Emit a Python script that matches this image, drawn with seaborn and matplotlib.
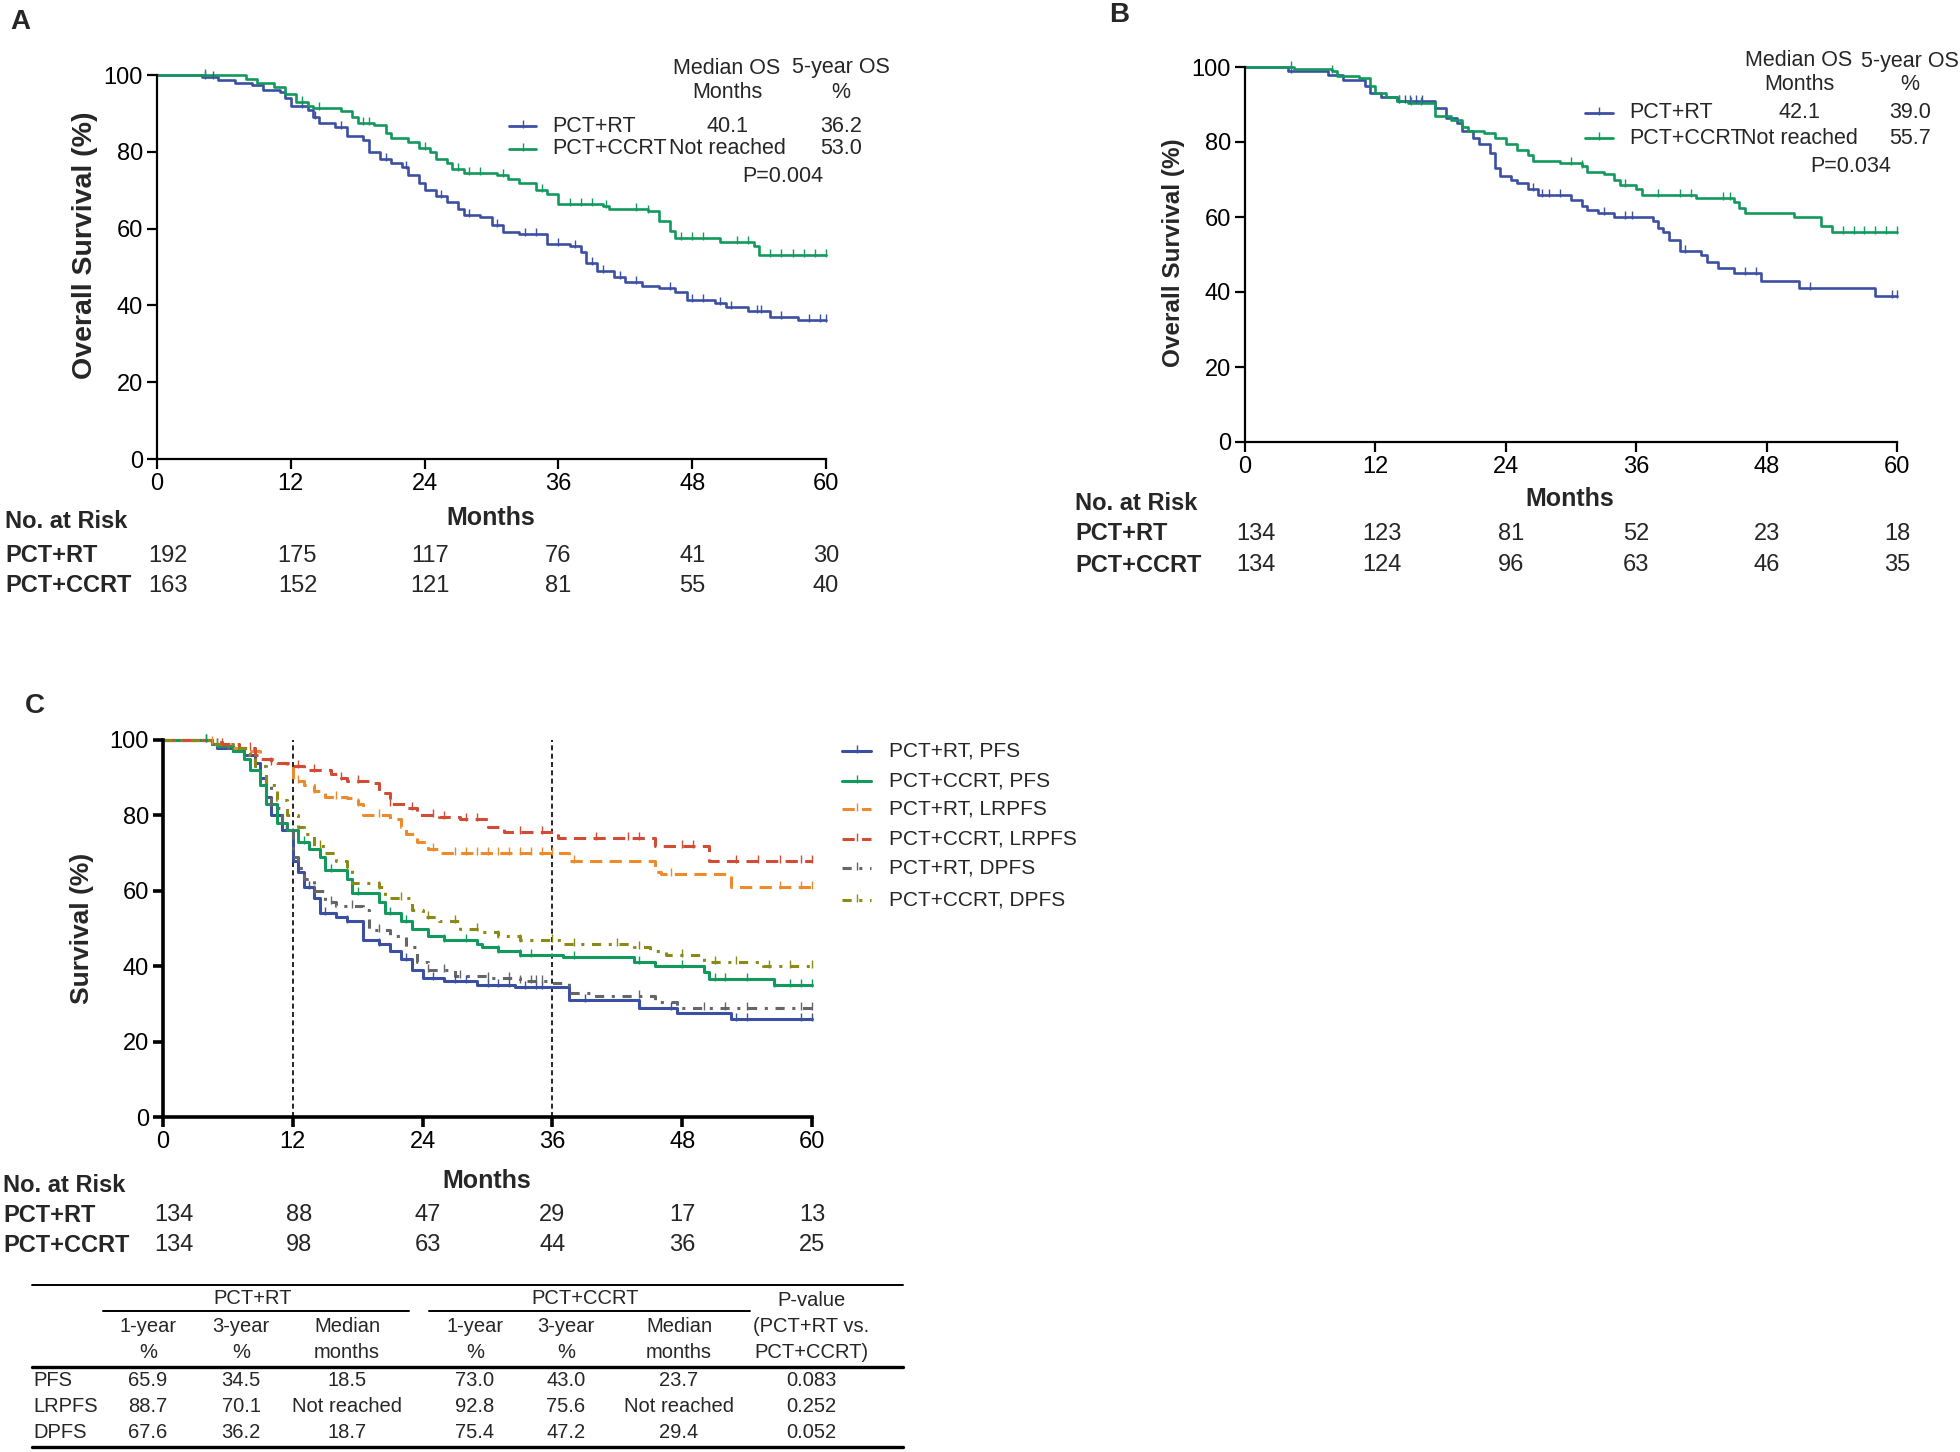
import numpy as np
import pandas as pd
import seaborn as sns
import matplotlib
matplotlib.use("Agg")
import matplotlib.pyplot as plt
from matplotlib.lines import Line2D
from matplotlib.path import Path
from matplotlib import transforms

# ---------------- data ----------------
MONTH_TICKS = [0, 12, 24, 36, 48, 60]
SURV_TICKS = [0, 20, 40, 60, 80, 100]
GROUPS = ["PCT+RT", "PCT+CCRT"]

# panel A - overall survival, whole cohort
A_RT_T = [0, 4, 5.5, 7, 8.5, 9.5, 11, 11.5, 12, 13.5, 14, 14.5, 16, 17, 18.5, 19, 20, 21, 22, 22.5,
          23.5, 24, 25, 26, 27, 27.5, 29, 30, 31, 32.5, 35, 37, 38, 38.5, 39.5, 41, 42, 43.5, 45, 46.5,
          47.5, 50, 51, 53, 55, 57.5, 60]
A_RT_S = [100, 99.5, 98.8, 98, 97.5, 96, 95.5, 94, 92, 91, 89, 87.5, 86.5, 84, 83, 80, 78, 77, 76, 74,
          72, 70, 68.5, 67, 65, 63.5, 63, 61, 59, 58.5, 56, 55.5, 54, 51, 49, 47.5, 46, 45, 44.5, 43.5,
          41.5, 40.5, 39.5, 38.5, 37, 36.2, 36.2]
A_CC_T = [0, 8, 9, 10.5, 11.5, 12.5, 13.5, 14, 16.5, 17.5, 18, 19.5, 20.5, 21, 22.5, 23.5, 24.5, 25, 26, 26.5,
          27.5, 30.5, 31.5, 32.5, 34, 35, 36, 40, 40.5, 44, 45, 46, 46.5, 50.5, 53.5, 54, 60]
A_CC_S = [100, 99, 98, 97, 95, 93, 92, 91.5, 90.5, 89, 87.5, 87, 85, 83.5, 82.5, 81, 80, 78, 77, 75.5,
          74.5, 74, 73, 72, 70, 69, 66.5, 66, 65, 64.5, 62, 59.5, 57.5, 56.5, 55.5, 53, 53]
A_RT_CENS = [4.3, 5, 13, 14.2, 16.5, 20.5, 22.3, 25.5, 28, 30.5, 33, 34, 36, 37.5, 39, 40, 41.5, 43, 46,
             48, 49, 50.5, 51.5, 53.8, 54.2, 56, 58.5, 59.5, 60]
A_CC_CENS = [4.3, 13, 14.5, 18.5, 19, 24, 27, 28, 29, 31, 34.5, 37, 38, 39, 40.3, 43, 44, 47, 48, 49,
             52, 53, 55, 56, 57, 58, 59, 60]
A_MEDIAN = ["40.1", "Not reached"]
A_FIVE_YEAR = ["36.2", "53.0"]
A_P = "P=0.004"
A_RISK = [[192, 175, 117, 76, 41, 30], [163, 152, 121, 81, 55, 40]]

# panel B - overall survival, matched cohort
B_RT_T = [0, 4, 7.6, 9, 11, 11.5, 12.5, 14, 17.5, 18.5, 19.5, 20, 21, 21.5, 22.5, 23, 23.5, 24.5, 25, 26,
          27, 30, 31, 31.5, 32.5, 34, 37.5, 38, 38.5, 39, 40, 42, 42.5, 43.5, 45, 47.5, 51, 58, 60]
B_RT_S = [100, 99, 98, 96.5, 95, 93, 92, 91, 89, 86.5, 85, 83, 81, 79.5, 77, 73, 71, 70, 69, 67.5,
          66, 64.5, 63, 62, 61, 60, 59, 57, 56, 54, 51, 50, 48, 46.5, 45, 43, 41, 39, 39]
B_CC_T = [0, 4.5, 8, 8.5, 10.5, 11.5, 12, 13, 14, 15, 17.5, 19, 20, 20.5, 22, 23, 24, 25, 26, 26.5,
          29, 31, 31.5, 33, 34, 34.5, 36, 36.5, 41.5, 45, 45.5, 46, 50.5, 53, 54, 60]
B_CC_S = [100, 99.5, 99, 97.5, 97, 95, 93, 92, 91, 90.5, 87, 86, 84, 83, 82.5, 81, 79.5, 78, 76.5, 75,
          74.5, 73.5, 72, 71.5, 70, 68.5, 67.5, 66, 65, 64, 62.5, 61, 60, 57.5, 56, 56]
B_RT_CENS = [4.2, 14.2, 14.7, 15.2, 15.7, 16.3, 26.5, 27.3, 28, 29, 33, 35, 35.6, 40.5, 46, 47, 52, 59.5, 60]
B_CC_CENS = [4.2, 8, 14.2, 15.3, 16.2, 30, 31, 35, 38, 40, 41, 44, 44.6, 55, 56, 57, 58, 59, 60]
B_MEDIAN = ["42.1", "Not reached"]
B_FIVE_YEAR = ["39.0", "55.7"]
B_P = "P=0.034"
B_RISK = [[134, 123, 81, 52, 23, 18], [134, 124, 96, 63, 46, 35]]

# panel C - PFS / LRPFS / DPFS, matched cohort
C_NAMES = ["PCT+RT, PFS", "PCT+CCRT, PFS", "PCT+RT, LRPFS", "PCT+CCRT, LRPFS", "PCT+RT, DPFS", "PCT+CCRT, DPFS"]
C_RT_PFS_T = [0, 4.5, 5, 6.5, 7.5, 8.5, 9, 9.5, 10, 11, 12, 12.5, 13, 14, 14.5, 16, 17, 18.5, 20, 21,
              22, 23, 24, 26, 29, 32.5, 37.5, 44, 47.5, 52.5, 60]
C_RT_PFS_S = [100, 99, 98, 97, 96, 94, 90, 85, 80, 76, 68, 65, 61, 58, 54, 53, 52, 47, 46, 44,
              42, 39, 37, 36, 35, 34.5, 31, 29, 27.5, 26, 26]
C_CC_PFS_T = [0, 4.5, 5, 6.5, 7.5, 8, 9, 9.5, 10.5, 11.5, 12.5, 13.5, 14.5, 15, 17, 17.5, 20, 20.5, 22, 23,
              24.5, 26, 29, 29.5, 31, 33, 37, 43.5, 45.5, 50, 50.5, 56.5, 60]
C_CC_PFS_S = [100, 99, 98.5, 97, 95, 92, 88, 83, 78, 76, 73, 71, 69, 65.5, 63, 59.5, 57, 54, 52, 50,
              48, 47, 46, 45, 44, 43, 42.5, 41, 40, 38.5, 36.5, 35, 35]
C_RT_LR_T = [0, 4.5, 5, 6, 7.5, 9, 10.5, 11.5, 12, 13, 14, 15, 17, 18, 18.5, 21, 22, 22.5, 23.5, 24.5,
             25.5, 37.5, 45.5, 46, 52.5, 60]
C_RT_LR_S = [100, 99.5, 99, 98, 97, 95, 94, 93, 89, 88, 86.5, 85, 84.5, 83, 80, 79, 77, 75, 73, 71,
             70, 68, 65, 64.5, 61, 61]
C_CC_LR_T = [0, 4.5, 5.5, 7, 8.5, 9, 10, 12, 13, 15.5, 16.5, 17, 19.5, 20, 21, 22.5, 23.5, 25.5, 27.5, 30,
             31.5, 36.5, 45.5, 50.5, 60]
C_CC_LR_S = [100, 99.5, 99, 98, 96, 95, 94, 93, 92, 91, 90, 89, 88.5, 86, 83, 82, 80, 79.5, 79, 77,
             75.5, 74, 72, 68, 68]
C_RT_DP_T = [0, 4.5, 6, 7.5, 8.5, 9.5, 10, 11, 12, 12.5, 13, 14, 15, 16, 18.5, 19, 21, 22.5, 23.5, 24.5,
             27, 30, 33, 35.5, 37.5, 39.5, 45.5, 47.5, 60]
C_RT_DP_S = [100, 99, 98, 96, 93, 88, 82, 77, 69, 66, 63, 60, 57, 56, 55, 49.5, 48, 45, 41, 39,
             37.5, 37, 36, 35.5, 33, 32, 30.5, 29, 29]
C_CC_DP_T = [0, 4.5, 6.5, 8, 8.5, 9.5, 10.5, 11.5, 12.5, 13, 14, 15, 16, 17, 17.5, 20, 20.5, 23, 24, 25.5,
             27.5, 29.5, 31, 33, 37, 43.5, 45, 46.5, 50, 55.5, 60]
C_CC_DP_S = [100, 99, 98, 96, 93, 88, 84, 80, 77, 75, 72, 70, 68, 66, 62, 61, 58, 55, 53, 52,
             50, 49, 48, 47, 46, 45, 44, 43, 41, 40, 40]
C_CENS = [
    [4, 13.5, 15, 17, 20, 22.5, 25, 27, 28, 30, 31, 32, 33.5, 34.5, 35, 39, 47, 53, 54, 59, 60],
    [4, 13, 15.5, 18, 21, 22.5, 26, 28, 31, 33, 34, 38, 44, 48, 51, 52, 54, 56.5, 58, 59, 60],
    [4.5, 12.5, 14, 16, 18, 20, 25, 27, 28, 29, 30, 31, 32, 33, 34, 35, 36, 38, 47, 57, 59, 60],
    [5.5, 8, 10, 12.5, 14, 16.5, 18, 21, 23, 25, 26, 28, 29, 33, 35, 40, 43, 44, 48, 49, 53, 55, 57, 59, 60],
    [5, 14, 15.5, 17.5, 20, 24.5, 26, 27.5, 30, 32, 33, 34, 34.5, 35, 44, 50, 52, 54, 59, 60],
    [5, 14.5, 17, 20, 22, 24.5, 27, 29, 31, 33, 36, 38, 42, 44, 48, 51, 53, 56, 58, 60],
]
C_LANDMARKS = [12, 36]
C_RISK = [[134, 88, 47, 29, 17, 13], [134, 98, 63, 44, 36, 25]]

# summary table under panel C
TABLE_ROWS = ["PFS", "LRPFS", "DPFS"]
RT_1Y = ["65.9", "88.7", "67.6"]
RT_3Y = ["34.5", "70.1", "36.2"]
RT_MED = ["18.5", "Not reached", "18.7"]
CC_1Y = ["73.0", "92.8", "75.4"]
CC_3Y = ["43.0", "75.6", "47.2"]
CC_MED = ["23.7", "Not reached", "29.4"]
P_VALUES = ["0.083", "0.252", "0.052"]

BLUE, GREEN = "#3b4fa3", "#12995c"
C_COLORS = [BLUE, GREEN, "#ec8a2c", "#d24b35", "#65666a", "#8b8a16"]
C_DASHES = ["", "", (4, 2.4), (4, 2.4), (3, 2.5, 1, 2.5), (3, 2.5, 1, 2.5)]

# ---------------- layout helpers (pixel coords, origin top-left) ----------------
W, H = 1960, 1452
RISK_POS = [1, 12.6, 24.5, 36, 48, 60]
CENSOR = Path([(0, -0.3), (0, 1)])  # censor tick, mostly above the curve
CENSOR_MS = 8

sns.set_style("ticks")
plt.rcParams["font.family"] = ["Liberation Sans", "DejaVu Sans"]

fig = plt.figure(figsize=(W / 100, H / 100), dpi=100)


def fx(x):
    return x / W


def fy(y):
    return 1 - y / H


def px_axes(left, top, right, bottom):
    return fig.add_axes([fx(left), fy(bottom), (right - left) / W, (bottom - top) / H])


def surv_at(t, s, times):
    idx = np.searchsorted(t, times, side="right") - 1
    return np.asarray(s)[idx]


def draw_km(ax, names, curves, colors, censors, lw, dashes=None):
    df = pd.concat([pd.DataFrame({"month": t, "surv": s, "group": n})
                    for n, (t, s) in zip(names, curves)], ignore_index=True)
    kw = {}
    if dashes is not None:
        kw = dict(style="group", dashes=dict(zip(names, dashes)))
    sns.lineplot(data=df, x="month", y="surv", hue="group", palette=dict(zip(names, colors)),
                 estimator=None, sort=False, drawstyle="steps-post", lw=lw, legend=False,
                 clip_on=False, ax=ax, **kw)
    for (t, s), c, ct in zip(curves, colors, censors):
        ax.plot(ct, surv_at(t, s, ct), ls="none", marker=CENSOR, ms=CENSOR_MS, mew=1.0, color=c, clip_on=False)


def style_axes(ax, spine_w, ylabel, ylab_xy, xlab_xy, ylab_size):
    ax.set_xlim(0, 60)
    ax.set_ylim(0, 100)
    ax.set_xticks(MONTH_TICKS)
    ax.set_yticks(SURV_TICKS)
    sns.despine(ax=ax)
    for sp in ["left", "bottom"]:
        ax.spines[sp].set_linewidth(spine_w)
        ax.spines[sp].set_color("black")
    ax.tick_params(length=7, width=spine_w, pad=3, labelsize=17, color="black", labelcolor="black")
    ax.set_xlabel("Months", fontsize=18, fontweight="bold", va="center")
    ax.xaxis.set_label_coords(fx(xlab_xy[0]), fy(xlab_xy[1]), transform=fig.transFigure)
    ax.set_ylabel(ylabel, fontsize=ylab_size, fontweight="bold", va="center")
    ax.yaxis.set_label_coords(fx(ylab_xy[0]), fy(ylab_xy[1]), transform=fig.transFigure)


def risk_table(ax, label_x, ys, counts):
    blend = transforms.blended_transform_factory(ax.transData, fig.transFigure)
    fig.text(fx(label_x), fy(ys[0]), "No. at Risk", fontsize=17, fontweight="bold", va="center")
    for name, row, y in zip(GROUPS, counts, ys[1:]):
        fig.text(fx(label_x), fy(y), name, fontsize=17, fontweight="bold", va="center")
        for m, c in zip(RISK_POS, row):
            ax.text(m, fy(y), str(c), transform=blend, ha="center", va="center", fontsize=17)


def sample_line(x0, x1, y, color, lw, dash=None):
    ln = Line2D([fx(x0), fx((x0 + x1) / 2), fx(x1)], [fy(y)] * 3, transform=fig.transFigure,
                color=color, lw=lw, marker=CENSOR, markevery=[1], ms=CENSOR_MS, mew=1.0)
    if dash:
        ln.set_dashes(dash)
    fig.add_artist(ln)


def os_legend(cols, rows_y, head_y, medians, five, p_text, p_xy, sample_x, label_x):
    fs = 15.5
    for head, x in zip([("Median OS", "Months"), ("5-year OS", "%")], cols):
        fig.text(fx(x), fy(head_y[0]), head[0], ha="center", va="center", fontsize=fs)
        fig.text(fx(x), fy(head_y[1]), head[1], ha="center", va="center", fontsize=fs)
    for g, c, y, med, fv in zip(GROUPS, [BLUE, GREEN], rows_y, medians, five):
        sample_line(sample_x[0], sample_x[1], y, c, 2)
        fig.text(fx(label_x), fy(y), g, ha="left", va="center", fontsize=fs)
        fig.text(fx(cols[0]), fy(y), med, ha="center", va="center", fontsize=fs)
        fig.text(fx(cols[1]), fy(y), fv, ha="center", va="center", fontsize=fs)
    fig.text(fx(p_xy[0]), fy(p_xy[1]), p_text, ha="center", va="center", fontsize=fs)


# ---------------- panel A ----------------
axA = px_axes(157, 75, 826, 459)
draw_km(axA, GROUPS, [(A_RT_T, A_RT_S), (A_CC_T, A_CC_S)], [BLUE, GREEN], [A_RT_CENS, A_CC_CENS], 1.9)
style_axes(axA, 1.6, "Overall Survival (%)", (85, 245), (491, 518), 20.5)
risk_table(axA, 5, [521, 556, 586], A_RISK)
os_legend([727, 841], [126, 149], [68, 93], A_MEDIAN, A_FIVE_YEAR, A_P, (783, 177), (509, 536), 552)
fig.text(fx(10), fy(22), "A", fontsize=20, fontweight="bold", va="center")

# ---------------- panel B ----------------
axB = px_axes(1245, 67, 1897, 442)
draw_km(axB, GROUPS, [(B_RT_T, B_RT_S), (B_CC_T, B_CC_S)], [BLUE, GREEN], [B_RT_CENS, B_CC_CENS], 1.9)
style_axes(axB, 1.6, "Overall Survival (%)", (1173, 253), (1570, 499), 17.5)
risk_table(axB, 1075, [503, 534, 565], B_RISK)
os_legend([1799, 1910], [113, 138], [61, 85], B_MEDIAN, B_FIVE_YEAR, B_P, (1851, 167), (1585, 1613), 1629)
fig.text(fx(1109), fy(15), "B", fontsize=20, fontweight="bold", va="center")

# ---------------- panel C ----------------
axC = px_axes(163, 740, 812, 1117)
c_curves = [(C_RT_PFS_T, C_RT_PFS_S), (C_CC_PFS_T, C_CC_PFS_S), (C_RT_LR_T, C_RT_LR_S),
            (C_CC_LR_T, C_CC_LR_S), (C_RT_DP_T, C_RT_DP_S), (C_CC_DP_T, C_CC_DP_S)]
axC.vlines(C_LANDMARKS, 0, 100, colors="black", lw=1.2, linestyles=(0, (3, 2)))
draw_km(axC, C_NAMES, c_curves, C_COLORS, C_CENS, 2.2, dashes=C_DASHES)
style_axes(axC, 2.6, "Survival (%)", (82, 928), (487, 1181), 19)
risk_table(axC, 3, [1186, 1215, 1245], C_RISK)
fig.text(fx(25), fy(706), "C", fontsize=20, fontweight="bold", va="center")
for name, c, d, y in zip(C_NAMES, C_COLORS, C_DASHES, [751, 781, 809, 839, 868, 900]):
    sample_line(842, 871, y, c, 2.2, d if d else None)
    fig.text(fx(889), fy(y), name, ha="left", va="center", fontsize=15)

# ---------------- summary table ----------------
tfs = 14.5


def hline(x0, x1, y, lw):
    fig.add_artist(Line2D([fx(x0), fx(x1)], [fy(y)] * 2, transform=fig.transFigure, color="black", lw=lw))


hline(32, 903, 1285, 1.4)
hline(103, 409, 1311, 1.4)
hline(429, 750, 1311, 1.4)
hline(32, 903, 1367, 2.4)
hline(32, 903, 1447, 2.4)

fig.text(fx(253), fy(1299), "PCT+RT", ha="center", va="center", fontsize=tfs)
fig.text(fx(585), fy(1299), "PCT+CCRT", ha="center", va="center", fontsize=tfs)
fig.text(fx(811), fy(1300), "P-value", ha="center", va="center", fontsize=tfs)
col_x = [148, 241, 347, 475, 566, 679, 811]
sub1 = ["1-year", "3-year", "Median", "1-year", "3-year", "Median", "(PCT+RT vs."]
sub2 = ["%", "%", "months", "%", "%", "months", "PCT+CCRT)"]
for x, a, b in zip(col_x, sub1, sub2):
    fig.text(fx(x), fy(1327), a, ha="center", va="center", fontsize=tfs)
    fig.text(fx(x), fy(1352), b, ha="center", va="center", fontsize=tfs)
for i, (lab, y) in enumerate(zip(TABLE_ROWS, [1381, 1407, 1433])):
    fig.text(fx(33), fy(y), lab, ha="left", va="center", fontsize=tfs)
    vals = [RT_1Y[i], RT_3Y[i], RT_MED[i], CC_1Y[i], CC_3Y[i], CC_MED[i], P_VALUES[i]]
    for x, v in zip(col_x, vals):
        fig.text(fx(x), fy(y), v, ha="center", va="center", fontsize=tfs)

fig.savefig("out.png", dpi=100)
